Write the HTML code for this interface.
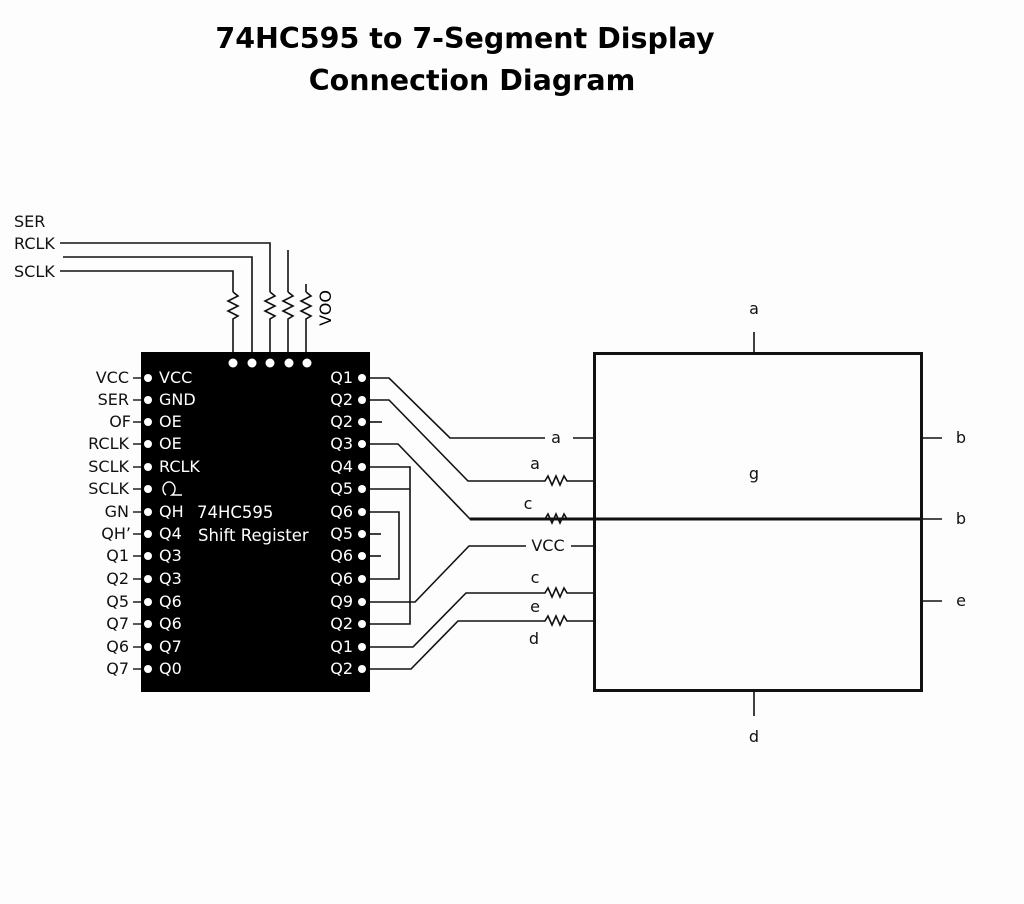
<!DOCTYPE html>
<html><head><style>
html,body{margin:0;padding:0;background:#fff;}
svg{display:block;}
text{font-family:"DejaVu Sans","Liberation Sans",sans-serif;}
</style></head><body>
<svg width="1024" height="904" viewBox="0 0 1024 904" xmlns="http://www.w3.org/2000/svg">
<rect width="1024" height="904" fill="#fdfdfd"/>
<text x="465" y="48" font-size="28.5" font-weight="bold" text-anchor="middle">74HC595 to 7-Segment Display</text>
<text x="472" y="90" font-size="28.5" font-weight="bold" text-anchor="middle">Connection Diagram</text>

<g font-size="16" fill="#111">
<text x="14" y="227">SER</text>
<text x="14" y="249">RCLK</text>
<text x="14" y="277">SCLK</text>
</g>
<g stroke="#111" stroke-width="1.6" fill="none">
<polyline points="60,243 270,243 270,292"/>
<polyline points="63,257 252,257 252,352"/>
<polyline points="60,271 233,271 233,292"/>
<line x1="288" y1="250" x2="288" y2="292"/>
<line x1="306" y1="284" x2="306" y2="292"/>
<path d="M233,292 l5,4 l-10,5 l10,5 l-10,5 l10,5 l-5,3 v33"/>
<path d="M270,292 l5,4 l-10,5 l10,5 l-10,5 l10,5 l-5,3 v33"/>
<path d="M288,292 l5,4 l-10,5 l10,5 l-10,5 l10,5 l-5,3 v33"/>
<path d="M306,292 l5,4 l-10,5 l10,5 l-10,5 l10,5 l-5,3 v33"/>
</g>
<text transform="translate(331,308) rotate(-90)" font-size="16" text-anchor="middle">VOO</text>

<rect x="141" y="352" width="229" height="340" fill="#000"/>
<g fill="#fff">
<circle cx="233" cy="363" r="4.5"/><circle cx="252" cy="363" r="4.5"/><circle cx="270" cy="363" r="4.5"/><circle cx="289" cy="363" r="4.5"/><circle cx="307" cy="363" r="4.5"/>
</g>
<g fill="#fff" font-size="16.5">
<text x="197" y="518">74HC595</text>
<text x="198" y="541">Shift Register</text>
</g>
<g font-size="16">
<g fill="#fff">
<circle cx="148" cy="378" r="4"/><circle cx="148" cy="400" r="4"/><circle cx="148" cy="422" r="4"/><circle cx="148" cy="444" r="4"/><circle cx="148" cy="467" r="4"/><circle cx="148" cy="489" r="4"/><circle cx="148" cy="512" r="4"/><circle cx="148" cy="534" r="4"/><circle cx="148" cy="556" r="4"/><circle cx="148" cy="579" r="4"/><circle cx="148" cy="602" r="4"/><circle cx="148" cy="624" r="4"/><circle cx="148" cy="647" r="4"/><circle cx="148" cy="669" r="4"/>
<circle cx="362" cy="378" r="4"/><circle cx="362" cy="400" r="4"/><circle cx="362" cy="422" r="4"/><circle cx="362" cy="444" r="4"/><circle cx="362" cy="467" r="4"/><circle cx="362" cy="489" r="4"/><circle cx="362" cy="512" r="4"/><circle cx="362" cy="534" r="4"/><circle cx="362" cy="556" r="4"/><circle cx="362" cy="579" r="4"/><circle cx="362" cy="602" r="4"/><circle cx="362" cy="624" r="4"/><circle cx="362" cy="647" r="4"/><circle cx="362" cy="669" r="4"/>
</g>
<g fill="#fff">
<text x="159" y="383">VCC</text><text x="159" y="405">GND</text><text x="159" y="427">OE</text><text x="159" y="449">OE</text><text x="159" y="472">RCLK</text><text x="159" y="517">QH</text><text x="159" y="539">Q4</text><text x="159" y="561">Q3</text><text x="159" y="584">Q3</text><text x="159" y="607">Q6</text><text x="159" y="629">Q6</text><text x="159" y="652">Q7</text><text x="159" y="674">Q0</text>
</g>
<g fill="#fff" text-anchor="end">
<text x="353" y="383">Q1</text><text x="353" y="405">Q2</text><text x="353" y="427">Q2</text><text x="353" y="449">Q3</text><text x="353" y="472">Q4</text><text x="353" y="494">Q5</text><text x="353" y="517">Q6</text><text x="353" y="539">Q5</text><text x="353" y="561">Q6</text><text x="353" y="584">Q6</text><text x="353" y="607">Q9</text><text x="353" y="629">Q2</text><text x="353" y="652">Q1</text><text x="353" y="674">Q2</text>
</g>
<g fill="#111" text-anchor="end">
<text x="129" y="383">VCC</text><text x="129" y="405">SER</text><text x="131" y="427">OF</text><text x="129" y="449">RCLK</text><text x="129" y="472">SCLK</text><text x="129" y="494">SCLK</text><text x="129" y="517">GN</text><text x="131" y="539">QH’</text><text x="129" y="561">Q1</text><text x="129" y="584">Q2</text><text x="129" y="607">Q5</text><text x="129" y="629">Q7</text><text x="129" y="652">Q6</text><text x="129" y="674">Q7</text>
</g>
<g stroke="#111" stroke-width="1.4">
<line x1="133" y1="378" x2="141" y2="378"/><line x1="133" y1="400" x2="141" y2="400"/><line x1="133" y1="422" x2="141" y2="422"/><line x1="133" y1="444" x2="141" y2="444"/><line x1="133" y1="467" x2="141" y2="467"/><line x1="133" y1="489" x2="141" y2="489"/><line x1="133" y1="512" x2="141" y2="512"/><line x1="133" y1="534" x2="141" y2="534"/><line x1="133" y1="556" x2="141" y2="556"/><line x1="133" y1="579" x2="141" y2="579"/><line x1="133" y1="602" x2="141" y2="602"/><line x1="133" y1="624" x2="141" y2="624"/><line x1="133" y1="647" x2="141" y2="647"/><line x1="133" y1="669" x2="141" y2="669"/>
</g>
<path d="M166,495 a6,7 0 1,1 6,0 h10" stroke="#fff" stroke-width="1.4" fill="none"/>
</g>

<g stroke="#111" stroke-width="1.6" fill="none">
<polyline points="370,378 389,378 450,438 545,438"/>
<line x1="573" y1="438" x2="595" y2="438"/>
<polyline points="370,400 389,400 468,481 541,481"/>
<path d="M541,481 l4,0 l3,-5 l4,9 l4,-9 l4,9 l4,-9 l3,5 h27"/>
<line x1="370" y1="422" x2="382" y2="422"/>
<polyline points="370,444 398,444 470,519 541,519"/>
<path d="M541,519 l4,0 l3,-5 l4,9 l4,-9 l4,9 l4,-9 l3,5 h27"/>
<polyline points="370,467 410,467 410,624 370,624"/>
<line x1="370" y1="489" x2="410" y2="489"/>
<polyline points="370,512 399,512 399,579 370,579"/>
<line x1="370" y1="534" x2="381" y2="534"/>
<line x1="370" y1="556" x2="381" y2="556"/>
<polyline points="370,602 415,602 469,546 526,546"/>
<line x1="571" y1="546" x2="595" y2="546"/>
<polyline points="370,647 413,647 466,593 541,593"/>
<path d="M541,593 l4,0 l3,-5 l4,9 l4,-9 l4,9 l4,-9 l3,5 h27"/>
<polyline points="370,669 411,669 458,621 541,621"/>
<path d="M541,621 l4,0 l3,-5 l4,9 l4,-9 l4,9 l4,-9 l3,5 h27"/>
</g>
<g font-size="16" fill="#111">
<text x="556" y="443" text-anchor="middle">a</text>
<text x="535" y="469" text-anchor="middle">a</text>
<text x="528" y="509" text-anchor="middle">c</text>
<text x="548" y="551" text-anchor="middle">VCC</text>
<text x="535" y="583" text-anchor="middle">c</text>
<text x="535" y="612" text-anchor="middle">e</text>
<text x="534" y="644" text-anchor="middle">d</text>
</g>

<rect x="594.5" y="353.5" width="327" height="337" fill="none" stroke="#111" stroke-width="3"/>
<line x1="470" y1="519" x2="922" y2="519" stroke="#111" stroke-width="3"/>
<g stroke="#111" stroke-width="1.6">
<line x1="754" y1="332" x2="754" y2="353"/>
<line x1="754" y1="692" x2="754" y2="716"/>
<line x1="922" y1="438" x2="942" y2="438"/>
<line x1="922" y1="519" x2="942" y2="519"/>
<line x1="922" y1="601" x2="942" y2="601"/>
</g>
<g font-size="16" fill="#111" text-anchor="middle">
<text x="754" y="314">a</text>
<text x="754" y="479">g</text>
<text x="754" y="742">d</text>
<text x="961" y="443">b</text>
<text x="961" y="524">b</text>
<text x="961" y="606">e</text>
</g>
</svg>
</body></html>
